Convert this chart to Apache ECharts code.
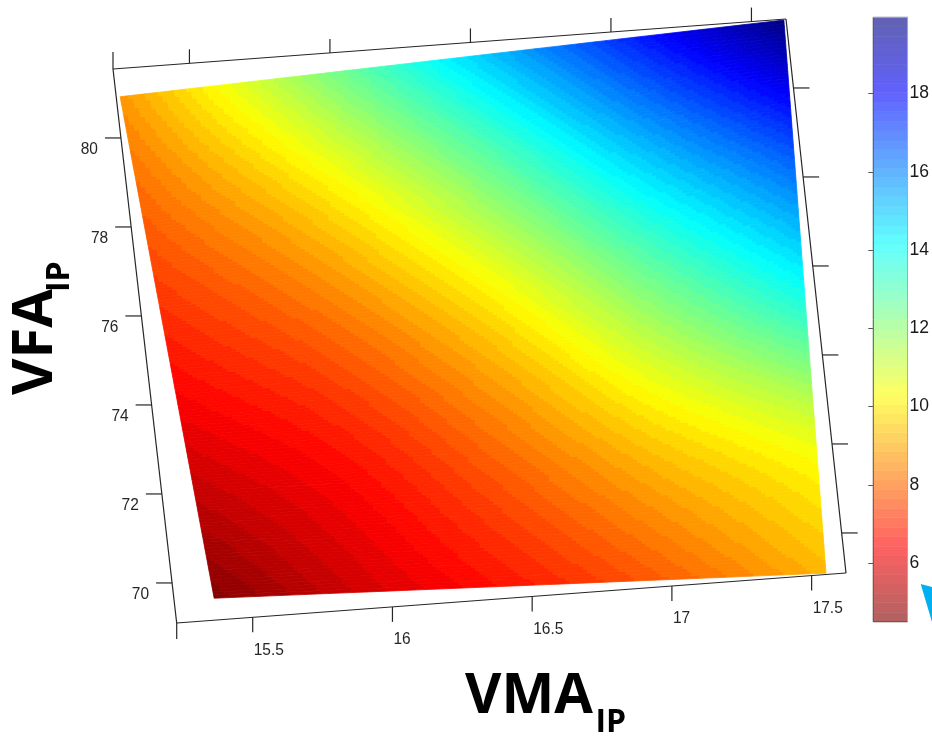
<!DOCTYPE html>
<html><head><meta charset="utf-8">
<script src="https://cdn.jsdelivr.net/npm/echarts@6/dist/echarts.min.js"></script>
<style>html,body{margin:0;padding:0;background:#fff}#chart{width:932px;height:743px}</style>
</head><body><div id="chart"></div>
<script>
// ---------------- data ----------------
const vmaTicks = [15.5, 16, 16.5, 17, 17.5];
const vfaTicks = [70, 72, 74, 76, 78, 80];
const colorbarTicks = [6, 8, 10, 12, 14, 16, 18];
const vmaRange = [15.228, 17.623];
const vfaRange = [69.1, 81.55];
const colorRange = [4.5, 19.95];
// surface extent corners: bottom-left, bottom-right, top-left, top-right
const surfaceCornerVMA = [15.371, 17.552, 15.242, 17.615];
const surfaceCornerVFA = [69.59, 69.13, 80.92, 81.53];
// surface values on a 5x5 mesh (rows: low VFA edge -> high VFA edge; cols: low VMA -> high VMA)
const zRow0 = [4.6, 5.8, 6.8, 7.9, 9.2];
const zRow1 = [5.7, 6.6, 8.0, 9.5, 10.7];
const zRow2 = [6.8, 7.9, 9.6, 11.8, 13.8];
const zRow3 = [7.8, 9.5, 11.8, 14.4, 16.6];
const zRow4 = [8.7, 11.5, 14.4, 17.3, 19.9];
const zRows = [zRow0, zRow1, zRow2, zRow3, zRow4];

// ---------------- view / style ----------------
const BOX = { bl: [176.7, 623], br: [846, 573], tl: [113, 69], tr: [786, 19] };
const NCELL = zRows.length - 1;
const NSUB = 40;
const NLEV = 64;

function clamp01(x) { return x < 0 ? 0 : (x > 1 ? 1 : x); }
function jet(f) {
  return [clamp01(1.5 - Math.abs(4 * f - 3)), clamp01(1.5 - Math.abs(4 * f - 2)), clamp01(1.5 - Math.abs(4 * f - 1))];
}
// reversed jet: level 0 (low value) = dark red, last = dark blue
const palette = [], paletteFaded = [];
for (let k = 0; k < NLEV; k++) {
  const c = jet(1 - (k + 0.5) / NLEV);
  palette.push('rgb(' + c.map(v => Math.round(v * 255)).join(',') + ')');
  const a = 0.62;
  paletteFaded.push('rgb(' + c.map(v => Math.round(a * v * 255 + (1 - a) * 255)).join(',') + ')');
}
function levelOf(z) {
  let k = Math.floor((z - colorRange[0]) / (colorRange[1] - colorRange[0]) * NLEV);
  return Math.max(0, Math.min(NLEV - 1, k));
}
function bil(c, s, t) {
  return (1 - s) * (1 - t) * c[0] + s * (1 - t) * c[1] + (1 - s) * t * c[2] + s * t * c[3];
}
// smooth (cubic Hermite) shading between mesh values, like interpolated surface shading
function cubic1(p, x) {
  const n = p.length - 1;
  let i = Math.floor(x); if (i >= n) i = n - 1; if (i < 0) i = 0;
  const t = x - i;
  const m = k => (k <= 0 ? p[1] - p[0] : (k >= n ? p[n] - p[n - 1] : (p[k + 1] - p[k - 1]) / 2));
  const t2 = t * t, t3 = t2 * t;
  return (2 * t3 - 3 * t2 + 1) * p[i] + (t3 - 2 * t2 + t) * m(i) + (-2 * t3 + 3 * t2) * p[i + 1] + (t3 - t2) * m(i + 1);
}
function shade(S, T) {
  const col = zRows.map(r => cubic1(r, S));
  return cubic1(col, T);
}
function boxMap(fu, fv) {
  return [
    bil([BOX.bl[0], BOX.br[0], BOX.tl[0], BOX.tr[0]], fu, fv),
    bil([BOX.bl[1], BOX.br[1], BOX.tl[1], BOX.tr[1]], fu, fv)
  ];
}
function makeProj(params, api) {
  const cs = params.coordSys;
  return function (u, v) {
    const p = api.coord([u, v]);
    return boxMap((p[0] - cs.x) / cs.width, (cs.y + cs.height - p[1]) / cs.height);
  };
}

// cells of the mesh
const cellData = [];
for (let j = 0; j < NCELL; j++) {
  for (let i = 0; i < NCELL; i++) {
    const s = (i + 0.5) / NCELL, t = (j + 0.5) / NCELL;
    cellData.push([bil(surfaceCornerVMA, s, t), bil(surfaceCornerVFA, s, t), i, j]);
  }
}

function renderSurface(params, api) {
  const proj = makeProj(params, api);
  const ci = api.value(2), cj = api.value(3);
  const pts = [];
  for (let b = 0; b <= NSUB; b++) {
    const row = [];
    for (let a = 0; a <= NSUB; a++) {
      const s = (ci + a / NSUB) / NCELL, t = (cj + b / NSUB) / NCELL;
      row.push(proj(bil(surfaceCornerVMA, s, t), bil(surfaceCornerVFA, s, t)));
    }
    pts.push(row);
  }
  const children = [];
  for (let b = 0; b < NSUB; b++) {
    let a0 = 0, cur = -1;
    for (let a = 0; a <= NSUB; a++) {
      let k = -2;
      if (a < NSUB) k = levelOf(shade(ci + (a + 0.5) / NSUB, cj + (b + 0.5) / NSUB));
      if (k !== cur) {
        if (cur >= 0) {
          children.push({
            type: 'polygon',
            shape: { points: [pts[b][a0], pts[b][a], pts[b + 1][a], pts[b + 1][a0]] },
            style: { fill: palette[cur], stroke: palette[cur], lineWidth: 0.8 }
          });
        }
        cur = k; a0 = a;
      }
    }
  }
  return { type: 'group', children: children };
}

function renderBox(params, api) {
  const proj = makeProj(params, api);
  const ln = '#262626';
  const lineEl = (p, q) => ({ type: 'line', shape: { x1: p[0], y1: p[1], x2: q[0], y2: q[1] }, style: { stroke: ln, lineWidth: 1.2 } });
  const label = (txt, x, y, align) => ({
    type: 'text', x: x, y: y, scaleY: 1.12,
    style: { text: txt, x: 0, y: 0, fill: ln, font: '15.5px "Liberation Sans", Arial, sans-serif', align: align, verticalAlign: 'middle' }
  });
  const children = [];
  const bl = proj(vmaRange[0], vfaRange[0]), br = proj(vmaRange[1], vfaRange[0]);
  const tl = proj(vmaRange[0], vfaRange[1]), tr = proj(vmaRange[1], vfaRange[1]);
  children.push(lineEl(bl, br), lineEl(br, tr), lineEl(tr, tl), lineEl(tl, bl));
  children.push(lineEl(bl, [bl[0], bl[1] + 16]), lineEl(tl, [tl[0], tl[1] - 17]));
  vmaTicks.forEach(x => {
    const p = proj(x, vfaRange[0]);
    children.push(lineEl(p, [p[0], p[1] + 15]));
    children.push(label(String(x), p[0] + 1, p[1] + 15 + 17.5, 'left'));
    const q = proj(x, vfaRange[1]);
    children.push(lineEl(q, [q[0], q[1] - 14]));
  });
  vfaTicks.forEach(y => {
    const p = proj(vmaRange[0], y);
    children.push(lineEl(p, [p[0] - 16, p[1]]));
    children.push(label(String(y), p[0] - 16 - 7, p[1] + 11.5, 'right'));
    const q = proj(vmaRange[1], y);
    children.push(lineEl(q, [q[0] + 16, q[1]]));
  });
  return { type: 'group', children: children };
}

function renderColorbar(params, api) {
  const children = [];
  const span = colorRange[1] - colorRange[0];
  for (let k = 0; k < NLEV; k++) {
    const p0 = api.coord([0, colorRange[0] + k * span / NLEV]);
    const p1 = api.coord([1, colorRange[0] + (k + 1) * span / NLEV]);
    children.push({
      type: 'rect',
      shape: { x: p0[0], y: p1[1], width: p1[0] - p0[0], height: p0[1] - p1[1] },
      style: { fill: paletteFaded[k], stroke: paletteFaded[k], lineWidth: 0.6 }
    });
  }
  const a = api.coord([0, colorRange[0]]), b = api.coord([1, colorRange[1]]);
  const L = (x1, y1, x2, y2, c) => ({ type: 'line', shape: { x1, y1, x2, y2 }, style: { stroke: c, lineWidth: 1 } });
  children.push(L(a[0], a[1], a[0], b[1], '#555'), L(a[0], a[1], b[0], a[1], '#555'),
    L(b[0], a[1], b[0], b[1], '#aaa'), L(a[0], b[1], b[0], b[1], '#aaa'));
  return { type: 'group', children: children };
}

const chart = echarts.init(document.getElementById('chart'), null, { renderer: 'canvas' });
const tickStyle = { inside: true, length: 5, lineStyle: { color: '#555', width: 1 }, customValues: colorbarTicks };
chart.setOption({
  animation: false,
  backgroundColor: '#ffffff',
  grid: [
    { left: 176.7, top: 69, width: 669.3, height: 554, show: false },
    { left: 873.3, top: 17.3, width: 35, height: 604.4, show: false }
  ],
  xAxis: [
    { gridIndex: 0, type: 'value', min: vmaRange[0], max: vmaRange[1], show: false },
    { gridIndex: 1, type: 'value', min: 0, max: 1, show: false }
  ],
  yAxis: [
    { gridIndex: 0, type: 'value', min: vfaRange[0], max: vfaRange[1], show: false },
    {
      gridIndex: 1, type: 'value', min: colorRange[0], max: colorRange[1], position: 'right',
      axisLine: { show: false }, splitLine: { show: false },
      axisTick: tickStyle,
      axisLabel: { margin: 2, fontSize: 17.5, color: '#1a1a1a', fontFamily: '"Liberation Sans", Arial, sans-serif', customValues: colorbarTicks }
    },
    {
      gridIndex: 1, type: 'value', min: colorRange[0], max: colorRange[1], position: 'left',
      axisLine: { show: false }, splitLine: { show: false },
      axisTick: tickStyle, axisLabel: { show: false }
    }
  ],
  series: [
    { type: 'custom', xAxisIndex: 0, yAxisIndex: 0, silent: true, encode: { x: 0, y: 1 }, data: cellData, renderItem: renderSurface, z: 2 },
    { type: 'custom', xAxisIndex: 0, yAxisIndex: 0, silent: true, encode: { x: 0, y: 1 }, data: [[vmaRange[0], vfaRange[0]]], renderItem: renderBox, z: 3 },
    { type: 'custom', xAxisIndex: 1, yAxisIndex: 1, silent: true, encode: { x: 0, y: 1 }, data: [[0.5, 10]], renderItem: renderColorbar, z: 1 }
  ],
  graphic: [
    { type: 'text', x: 465, y: 697, style: { text: 'VMA', font: 'bold 56px "Open Sans", sans-serif', fill: '#000', align: 'left', verticalAlign: 'middle' } },
    { type: 'text', x: 595.5, y: 723, style: { text: 'IP', font: 'bold 32px "Open Sans", sans-serif', fill: '#000', align: 'left', verticalAlign: 'middle' } },
    { type: 'text', x: 36, y: 395, rotation: Math.PI / 2, style: { text: 'VFA', font: 'bold 56px "Open Sans", sans-serif', fill: '#000', align: 'left', verticalAlign: 'middle' } },
    { type: 'text', x: 60, y: 292, rotation: Math.PI / 2, style: { text: 'IP', font: 'bold 32px "Open Sans", sans-serif', fill: '#000', align: 'left', verticalAlign: 'middle' } },
    { type: 'polygon', shape: { points: [[920.7, 584], [932, 587], [932, 622]] }, style: { fill: '#00b0f0' } }
  ]
});
</script>
</body></html>
